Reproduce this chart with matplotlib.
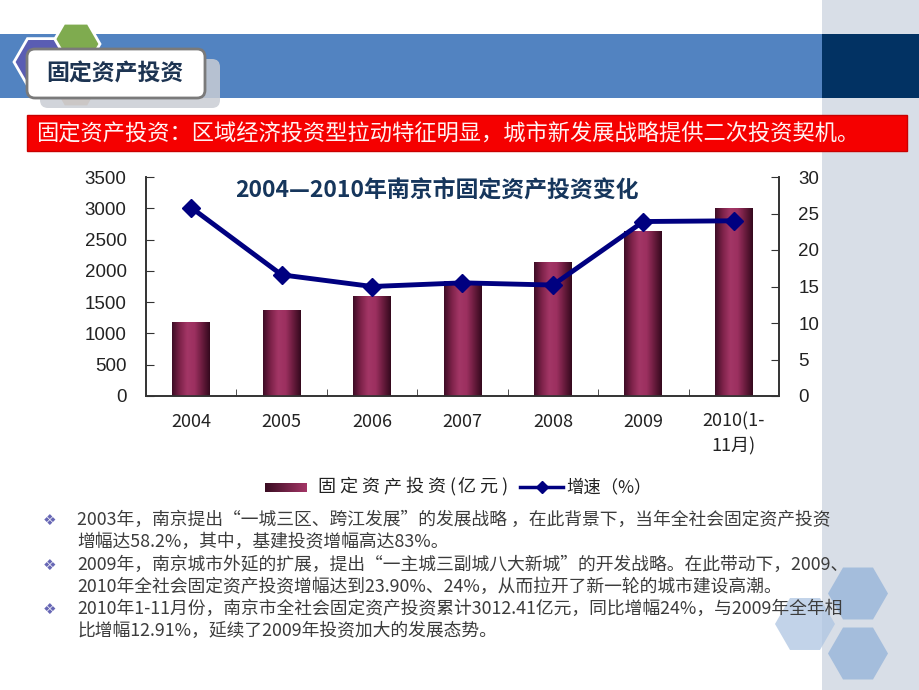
import numpy as np
import matplotlib
matplotlib.use('Agg')
import matplotlib.pyplot as plt
from matplotlib.patches import Rectangle, FancyBboxPatch, RegularPolygon
from matplotlib.colors import LinearSegmentedColormap
from matplotlib.lines import Line2D

plt.rcParams['font.family'] = ['Noto Sans CJK SC', 'DejaVu Sans']

years = ['2004', '2005', '2006', '2007', '2008', '2009', '2010(1-\n11月)']
invest = [1180, 1377, 1605, 1830, 2134, 2641, 3012]     # 亿元
growth = [25.8, 16.6, 15.0, 15.5, 15.2, 23.9, 24.0]     # %

page_title = '固定资产投资'
banner = '固定资产投资：区域经济投资型拉动特征明显，城市新发展战略提供二次投资契机。'
chart_title = '2004—2010年南京市固定资产投资变化'
legend_bar = '固定资产投资(亿元)'
legend_line = '增速（%）'
bullets = [
    '2003年，南京提出“一城三区、跨江发展”的发展战略 ，在此背景下，当年全社会固定资产投资\n增幅达58.2%，其中，基建投资增幅高达83%。',
    '2009年，南京城市外延的扩展，提出“一主城三副城八大新城”的开发战略。在此带动下，2009、\n2010年全社会固定资产投资增幅达到23.90%、24%，从而拉开了新一轮的城市建设高潮。',
    '2010年1-11月份，南京市全社会固定资产投资累计3012.41亿元，同比增幅24%，与2009年全年相\n比增幅12.91%，延续了2009年投资加大的发展态势。',
]

W, H = 920, 690
fig = plt.figure(figsize=(W / 100, H / 100), dpi=100)
fig.patch.set_facecolor('white')

bar_cmap = LinearSegmentedColormap.from_list(
    'bar', ['#3e0d26', '#7d2249', '#a33666', '#9c3060', '#6a1c3e', '#35091e'])
grad = np.linspace(0, 1, 64).reshape(1, -1)

# ---- slide decoration (pixel coordinates) ----
bg = fig.add_axes([0, 0, 1, 1])
bg.set_xlim(0, W)
bg.set_ylim(H, 0)
bg.axis('off')

bg.add_patch(Rectangle((822, 0), 98, H, fc='#d8dee7', ec='none', zorder=0))
bg.add_patch(Rectangle((0, 34), 822, 64, fc='#5283c1', ec='none', zorder=1))
bg.add_patch(Rectangle((822, 34), 98, 64, fc='#023263', ec='none', zorder=1))

def hexagon(x, y, r, color, edge='white', z=2, alpha=1.0):
    bg.add_patch(RegularPolygon((x, y), 6, radius=r, orientation=np.pi / 6,
                                fc=color, ec=edge, lw=2, zorder=z, alpha=alpha))

def spaced_text(x, y, s, wide, narrow, **kw):
    # place characters one by one, full-width vs ascii advance
    for ch in s:
        bg.text(x, y, ch, ha='left', va='center', **kw)
        x += narrow if ord(ch) < 128 else wide

hexagon(76, 44, 24, '#7fab4f')
hexagon(41, 62, 27, '#5a5db3')
hexagon(76, 86, 24, '#d9a679')
bg.add_patch(FancyBboxPatch((40, 59), 180, 49, boxstyle='round,pad=0,rounding_size=8',
                            fc='#c9cdd4', ec='none', alpha=0.85, zorder=3))
bg.add_patch(FancyBboxPatch((27, 49), 178, 49, boxstyle='round,pad=0,rounding_size=8',
                            fc='white', ec='#7a7a7a', lw=2, zorder=4))
bg.text(115, 74, page_title, fontsize=16.5, fontweight='bold', color='#1d3452',
        ha='center', va='center', zorder=5)

bg.add_patch(Rectangle((27, 115), 880, 36, fc='#f50000', ec='#c80000', lw=1, zorder=3))
bg.text(36, 133.5, banner, fontsize=16, color='#fff2f2', ha='left', va='center', zorder=4)

hexagon(858, 593.5, 30, '#a4bddc', edge='none')
hexagon(805, 624, 30, '#aec5e2', edge='none', alpha=0.75)
hexagon(858, 653.5, 30, '#a4bddc', edge='none')

# chart title
bg.text(437, 190, chart_title, fontsize=16.5, fontweight='bold', color='#16365c',
        ha='center', va='center', zorder=6)

# legend
bg.imshow(grad, cmap=LinearSegmentedColormap.from_list('lg', ['#3a0c22', '#a33666']),
          aspect='auto', extent=[265, 307, 492, 483], zorder=2)
spaced_text(317, 487, legend_bar, 22, 8.5, fontsize=13, color='#222222')
bg.add_line(Line2D([520, 563], [487, 487], color='#000080', lw=2.5, zorder=2))
bg.add_line(Line2D([542], [487], color='#000080', marker='D', ms=6, zorder=3))
bg.text(566, 487, legend_line, fontsize=12.5, color='#222222', ha='left', va='center')

# bullet text
line_y = [520, 565, 609]
for y, txt in zip(line_y, bullets):
    bg.text(50, y, '❖', fontsize=11, color='#6767b5', ha='center', va='center',
            family='DejaVu Sans')
    bg.text(77, y - 9.5, txt, fontsize=12.8, color='#3c3c3c', ha='left', va='top',
            linespacing=1.3, zorder=2)

# ---- chart ----
x0, x1, y0, y1 = 146, 779, 396, 177
ax = fig.add_axes([x0 / W, 1 - y0 / H, (x1 - x0) / W, (y0 - y1) / H])
ax.patch.set_alpha(0)
pos = np.arange(len(years))
bars = ax.bar(pos, invest, width=0.42, color='#8c2a56', zorder=2)

for b in bars:
    im = ax.imshow(grad, cmap=bar_cmap, aspect='auto', zorder=3,
                   extent=[b.get_x(), b.get_x() + b.get_width(), 0, b.get_height()])
    im.set_clip_path(b)

ax.set_xlim(-0.5, len(years) - 0.5)
ax.set_ylim(0, 3500)
ax.set_yticks(np.arange(0, 3501, 500))
ax.set_xticks(pos)
ax.set_xticklabels(years, fontsize=13, color='#222222', linespacing=1.45)
ax.set_xticks(pos[:-1] + 0.5, minor=True)
ax.tick_params(axis='x', which='major', length=0, pad=12)
ax.tick_params(axis='x', which='minor', direction='in', length=5, color='#333333')
ax.tick_params(axis='y', direction='in', length=6, pad=14, labelsize=13.5,
               labelcolor='#222222', color='#333333')
for lab in ax.get_yticklabels():
    lab.set_family('Liberation Sans')
ax.spines['top'].set_visible(False)
for s in ['left', 'bottom', 'right']:
    ax.spines[s].set_color('#333333')
    ax.spines[s].set_linewidth(1.2)

ax2 = ax.twinx()
ax2.plot(pos, growth, color='#000080', lw=3.5, marker='D', ms=9, zorder=5)
ax2.set_ylim(0, 30)
ax2.set_yticks(np.arange(0, 31, 5))
ax2.tick_params(axis='y', direction='in', length=6, pad=14, labelsize=13.5,
                labelcolor='#222222', color='#333333')
for lab in ax2.get_yticklabels():
    lab.set_family('Liberation Sans')
ax2.spines['top'].set_visible(False)
for s in ['left', 'bottom', 'right']:
    ax2.spines[s].set_color('#333333')
    ax2.spines[s].set_linewidth(1.2)

fig.savefig('out.png', dpi=100)
